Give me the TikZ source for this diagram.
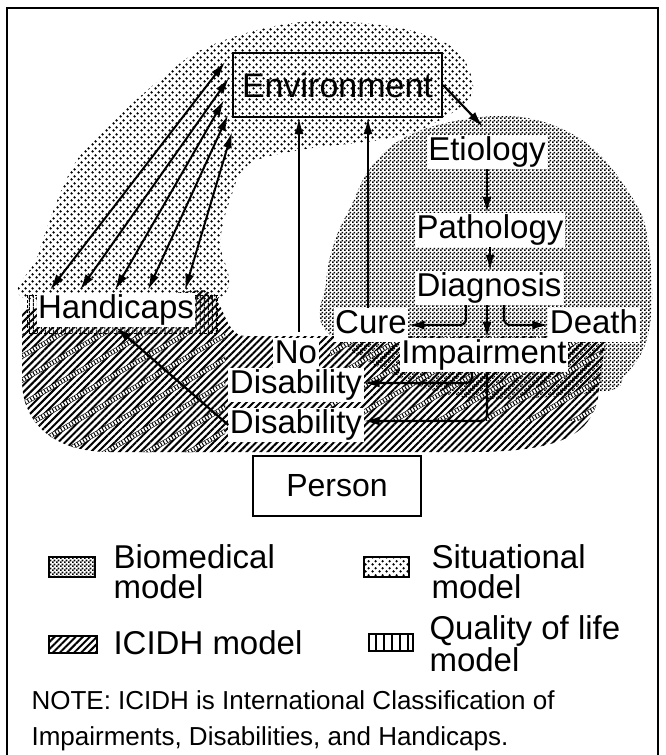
\documentclass[tikz,border=0pt]{standalone}
\usepackage{fontspec}
\setmainfont{Liberation Sans}
\usetikzlibrary{arrows.meta,patterns.meta,calc}

\tikzdeclarepattern{
  name=checker,
  bottom left={(0pt,0pt)}, top right={(4pt,4pt)}, tile size={(4pt,4pt)},
  code={\fill (0pt,0pt) rectangle (2pt,2pt); \fill (2pt,2pt) rectangle (4pt,4pt);}
}
\tikzdeclarepattern{
  name=sitdots,
  bottom left={(0pt,0pt)}, top right={(7pt,7pt)}, tile size={(7pt,7pt)},
  code={\fill (1.75pt,1.75pt) circle (1.45pt); \fill (5.25pt,5.25pt) circle (1.45pt);}
}

\tikzset{
  lbl/.style={fill=white, inner sep=1.5pt, text height=24pt, text depth=7pt,
              font=\fontsize{33}{36}\selectfont},
  arr/.style={line width=2.2pt, -{Latex[length=16pt,width=9pt]}},
  darr/.style={line width=2pt, {Latex[length=16pt,width=9pt]}-{Latex[length=16pt,width=9pt]}},
  hatchfill/.style={pattern={Lines[angle=45,distance=5pt,line width=2pt]}},
  checkfill/.style={pattern=checker},
  dotfill/.style={pattern=sitdots},
  rail/.style={double=white, double distance=3.5pt, line width=0.6pt},
  rung/.style={line width=3.5pt, dash pattern=on 1pt off 2.2pt},
  legtext/.style={anchor=west, align=left, font=\fontsize{33}{30}\selectfont},
  swatch/.style={draw, line width=1.5pt}
}

\begin{document}
\begin{tikzpicture}[x=1pt,y=-1pt]
\useasboundingbox (0,0) rectangle (665,755);

% frame
\draw[line width=2pt] (7,760) -- (7,8) -- (658,8) -- (658,760);

% situational model (dots)
\fill[dotfill] plot[smooth cycle, tension=0.6] coordinates {(30,300) (38,255) (70,172) (106,128) (174,68) (212,45) (270,27) (326,21) (400,28) (449,45) (470,72) (468,100) (424,128) (380,140) (300,150) (248,165) (230,200) (220,240) (214,300)};

% biomedical model (checker)
\fill[checkfill] plot[smooth cycle, tension=0.6] coordinates {(330,335) (326,283) (335,240) (352,204) (369,170) (400,140) (450,122) (510,116) (560,128) (600,155) (636,204) (648,240) (652,300) (645,345) (625,375) (600,392) (450,395)};

% ICIDH model (hatch)
\def\icidh{(22,310) -- (200,290) .. controls (225,290) and (222,336) .. (245,336) -- (606,336) -- (598,398) .. controls (590,435) and (560,452) .. (470,452) -- (110,452) .. controls (50,452) and (22,420) .. (22,380) -- cycle}
\fill[hatchfill] \icidh;

% quality of life ladders
\begin{scope}
  \clip \icidh;
  \clip (22,333) rectangle (225,455);
  \foreach \k in {0,...,12} {
    \draw[rail] (0,345+24*\k) -- ++(300,-173);
    \draw[rung] (0,345+24*\k) -- ++(300,-173);
  }
\end{scope}
\begin{scope}
  \clip \icidh;
  \clip (330,336) rectangle (600,420);
  \foreach \k in {0,...,12} {
    \draw[rail] (300,345+26*\k) -- ++(320,-185);
    \draw[rung] (300,345+26*\k) -- ++(320,-185);
  }
\end{scope}

% Handicaps box (quality of life)
\fill[pattern={Lines[angle=90,distance=4pt,line width=1pt]}] (27,295) rectangle (217,333);
\draw[line width=1pt, dash pattern=on 3pt off 2pt] (27,295) rectangle (217,333);

% nodes
\node[draw, line width=2pt, minimum width=209pt, minimum height=64pt,
      font=\fontsize{34}{36}\selectfont] (env) at (337.5,85) {Environment};
\node[lbl] (etio) at (487,152) {Etiology};
\node[lbl] (path) at (490,230) {Pathology};
\node[lbl] (diag) at (489,288) {Diagnosis};
\node[lbl] (cure) at (371,325) {Cure};
\node[lbl] (death) at (594,325) {Death};
\node[lbl] (imp) at (484,355) {Impairment};
\node[lbl] (no) at (296,355) {No};
\node[lbl] (dis1) at (296,385) {Disability};
\node[lbl] (dis2) at (296,425) {Disability};
\node[lbl] (hand) at (116,310) {Handicaps};
\node[draw, line width=1.5pt, minimum width=168pt, minimum height=60pt,
      font=\fontsize{32}{36}\selectfont] (person) at (337,486) {Person};

% handicaps <-> environment
\coordinate (h1) at (50,290);  \coordinate (e1) at (225,62);
\coordinate (h2) at (80,290);  \coordinate (e2) at (229,78);
\coordinate (h3) at (115,290); \coordinate (e3) at (224,100);
\coordinate (h4) at (148,290); \coordinate (e4) at (228,115);
\coordinate (h5) at (185,290); \coordinate (e5) at (232,132);
\foreach \i in {1,...,5} { \draw[darr] (h\i) -- (e\i); }

% arrows
\draw[arr] (env.east) -- ([xshift=-4pt,yshift=8pt]etio.north);
\draw[arr] (etio.south) -- (etio.south |- path.north);
\draw[arr] (path.south) -- (path.south |- diag.north);
\draw[arr] ([xshift=-2pt]diag.south) -- ([xshift=-2pt]diag.south |- imp.north);
\draw[arr, rounded corners=6pt] ([xshift=-23pt]diag.south) |- (cure.east);
\draw[arr, rounded corners=6pt] ([xshift=15pt]diag.south) |- (death.west);
\draw[arr, rounded corners=6pt] ([xshift=-12pt]imp.south) |- ([yshift=2pt]dis1.east);
\draw[arr, rounded corners=6pt] ([xshift=3pt]imp.south) |- ([yshift=4pt]dis2.east);
\draw[arr, shorten <=6pt] ([xshift=3pt]no.north) -- ([xshift=3pt]no.north |- env.south);
\draw[arr] ([xshift=-3pt]cure.north) -- ([xshift=-3pt]cure.north |- env.south);
\draw[arr] (dis2.west) -- (hand.south);

% legend
\draw[swatch, checkfill] (49,557) rectangle (95,577);
\node[legtext] (lbio) at (110,572) {Biomedical\\model};
\draw[swatch, dotfill] (364,557) rectangle (409,577);
\node[legtext] (lsit) at (428,572) {Situational\\model};
\draw[swatch, hatchfill] (49,636) rectangle (97,653);
\node[legtext] (licidh) at (110,643) {ICIDH model};
\draw[swatch, pattern={Lines[angle=90,distance=8pt,line width=1.5pt]}] (369,634) rectangle (413,651);
\node[legtext] (lqol) at (426,644) {Quality of life\\model};

\node[anchor=west, align=left, font=\fontsize{26}{36}\selectfont] (note) at (28,721)
  {NOTE: ICIDH is International Classification of\\Impairments, Disabilities, and Handicaps.};
\end{tikzpicture}
\end{document}
